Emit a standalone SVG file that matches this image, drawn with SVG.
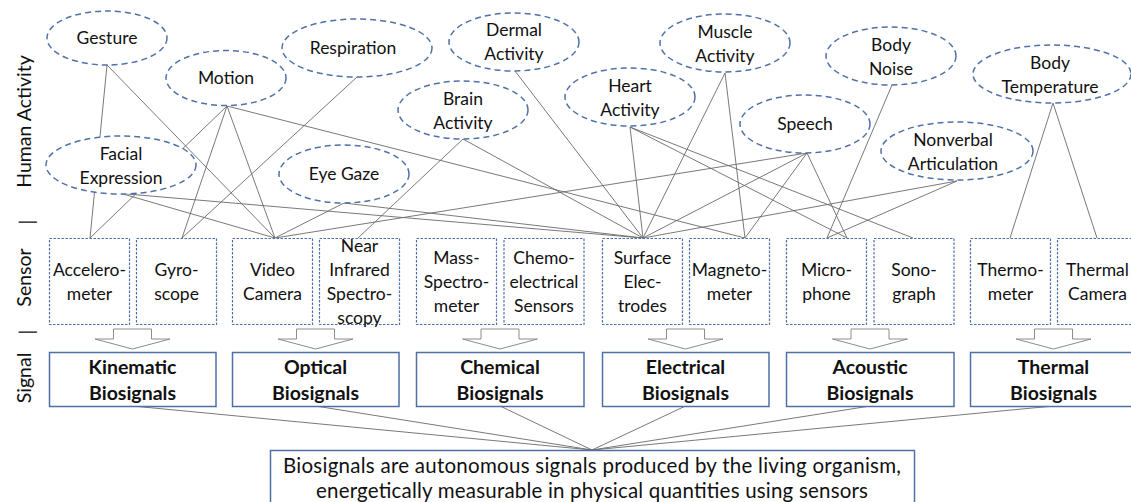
<svg xmlns="http://www.w3.org/2000/svg" xmlns:xlink="http://www.w3.org/1999/xlink" width="1131" height="502" viewBox="0 0 1131 502">
  <style>
    .act { fill: #ffffff; stroke: #4f71aa; stroke-width: 1.5; stroke-dasharray: 6 4; }
    .sen { fill: #ffffff; stroke: #4f71aa; stroke-width: 1.2; stroke-dasharray: 2.5 1.5; }
    .sig { fill: #ffffff; stroke: #4f6fa8; stroke-width: 1.5; }
    .con line { stroke: #6a6a6a; stroke-width: 0.9; }
    .arr { fill: #ffffff; stroke: #8c8c8c; stroke-width: 1; }
    text { font-family: Lato, "Open Sans", sans-serif; fill: #111111; text-anchor: middle; }
    .t { font-size: 17.5px; }
    .b { font-size: 19.5px; font-weight: bold; }
    .lab { font-size: 19.5px; }
    .def { font-size: 20.5px; }
  </style>
  <defs>
    <polygon id="fatArrow" class="arr" points="-19,329 19,329 19,339 37.5,339 0,349 -37.5,339 -19,339"/>
  </defs>

  <!-- level labels on the left edge -->
  <g id="levelLabels" class="lab">
    <text transform="translate(31,121.5) rotate(-90)">Human Activity</text>
    <text transform="translate(28,222) rotate(-90)" dy="6">|</text>
    <text transform="translate(31,277.5) rotate(-90)">Sensor</text>
    <text transform="translate(28,332) rotate(-90)" dy="6">|</text>
    <text transform="translate(31,378) rotate(-90)">Signal</text>
  </g>

  <!-- connectors: activities to sensors, signal classes to definition -->
  <g id="connectors" class="con">
    <line x1="107" y1="65" x2="90" y2="238"/>
    <line x1="107" y1="65" x2="275" y2="238"/>
    <line x1="227" y1="106" x2="90" y2="238"/>
    <line x1="227" y1="106" x2="182" y2="238"/>
    <line x1="227" y1="106" x2="275" y2="238"/>
    <line x1="227" y1="106" x2="745" y2="238"/>
    <line x1="357" y1="77" x2="182" y2="238"/>
    <line x1="123" y1="194" x2="275" y2="238"/>
    <line x1="127" y1="194" x2="643" y2="238"/>
    <line x1="344" y1="203" x2="275" y2="238"/>
    <line x1="344" y1="203" x2="643" y2="238"/>
    <line x1="463" y1="139" x2="358" y2="238"/>
    <line x1="463" y1="139" x2="643" y2="238"/>
    <line x1="515" y1="71" x2="643" y2="238"/>
    <line x1="630" y1="127" x2="643" y2="238"/>
    <line x1="630" y1="127" x2="847" y2="238"/>
    <line x1="630" y1="127" x2="913" y2="238"/>
    <line x1="725" y1="73" x2="643" y2="238"/>
    <line x1="725" y1="73" x2="745" y2="238"/>
    <line x1="807" y1="153" x2="275" y2="238"/>
    <line x1="807" y1="153" x2="643" y2="238"/>
    <line x1="807" y1="153" x2="745" y2="238"/>
    <line x1="807" y1="153" x2="847" y2="238"/>
    <line x1="892" y1="85" x2="827" y2="238"/>
    <line x1="957" y1="181" x2="643" y2="238"/>
    <line x1="957" y1="181" x2="827" y2="238"/>
    <line x1="1053" y1="103" x2="1010" y2="238"/>
    <line x1="1053" y1="103" x2="1097" y2="238"/>

    <line x1="132.5" y1="406" x2="592" y2="450"/>
    <line x1="315.5" y1="406" x2="592" y2="450"/>
    <line x1="500" y1="406" x2="592" y2="450"/>
    <line x1="685.5" y1="406" x2="592" y2="450"/>
    <line x1="870" y1="406" x2="592" y2="450"/>
    <line x1="1053.5" y1="406" x2="592" y2="450"/>
  </g>

  <!-- human activities -->
  <g id="gesture"><ellipse class="act" cx="107" cy="38" rx="60" ry="27"/><text class="t" x="107" y="44">Gesture</text></g>
  <g id="motion"><ellipse class="act" cx="226" cy="78" rx="60" ry="27.5"/><text class="t" x="226" y="84">Motion</text></g>
  <g id="respiration"><ellipse class="act" cx="357" cy="48" rx="75" ry="29"/><text class="t" x="353" y="54">Respiration</text></g>
  <g id="facialExpression"><ellipse class="act" cx="121" cy="165" rx="75" ry="29"/><text class="t" x="121" y="160">Facial</text><text class="t" x="121" y="184">Expression</text></g>
  <g id="eyeGaze"><ellipse class="act" cx="344" cy="174" rx="65" ry="29"/><text class="t" x="344" y="180">Eye Gaze</text></g>
  <g id="brainActivity"><ellipse class="act" cx="463" cy="110" rx="65" ry="29"/><text class="t" x="463" y="105">Brain</text><text class="t" x="463" y="129">Activity</text></g>
  <g id="dermalActivity"><ellipse class="act" cx="514" cy="42" rx="65" ry="29"/><text class="t" x="514" y="36">Dermal</text><text class="t" x="514" y="60">Activity</text></g>
  <g id="heartActivity"><ellipse class="act" cx="630" cy="97" rx="65" ry="29"/><text class="t" x="630" y="92">Heart</text><text class="t" x="630" y="116">Activity</text></g>
  <g id="muscleActivity"><ellipse class="act" cx="725" cy="43" rx="65" ry="29"/><text class="t" x="725" y="38">Muscle</text><text class="t" x="725" y="62">Activity</text></g>
  <g id="speech"><ellipse class="act" cx="805" cy="124" rx="65" ry="29"/><text class="t" x="805" y="130">Speech</text></g>
  <g id="bodyNoise"><ellipse class="act" cx="891" cy="56" rx="65" ry="29"/><text class="t" x="891" y="51">Body</text><text class="t" x="891" y="75">Noise</text></g>
  <g id="nonverbalArticulation"><ellipse class="act" cx="957" cy="151" rx="76" ry="29"/><text class="t" x="953" y="146">Nonverbal</text><text class="t" x="953" y="170">Articulation</text></g>
  <g id="bodyTemperature"><ellipse class="act" cx="1052" cy="74" rx="79" ry="29"/><text class="t" x="1050" y="69">Body</text><text class="t" x="1050" y="93">Temperature</text></g>

  <!-- sensors -->
  <g id="accelerometer"><rect class="sen" x="49.5" y="238.5" width="80" height="86"/><text class="t" x="89.5" y="276">Accelero-</text><text class="t" x="89.5" y="300">meter</text></g>
  <g id="gyroscope"><rect class="sen" x="136.5" y="238.5" width="80" height="86"/><text class="t" x="176.5" y="276">Gyro-</text><text class="t" x="176.5" y="300">scope</text></g>
  <g id="videoCamera"><rect class="sen" x="232.5" y="238.5" width="80" height="86"/><text class="t" x="272.5" y="276">Video</text><text class="t" x="272.5" y="300">Camera</text></g>
  <g id="nearInfrared"><rect class="sen" x="319.5" y="238.5" width="80" height="86"/><text class="t" x="359.5" y="252">Near</text><text class="t" x="359.5" y="276">Infrared</text><text class="t" x="359.5" y="300">Spectro-</text><text class="t" x="359.5" y="324">scopy</text></g>
  <g id="massSpectrometer"><rect class="sen" x="416.5" y="238.5" width="80" height="86"/><text class="t" x="456.5" y="264">Mass-</text><text class="t" x="456.5" y="288">Spectro-</text><text class="t" x="456.5" y="312">meter</text></g>
  <g id="chemoelectrical"><rect class="sen" x="504" y="238.5" width="80" height="86"/><text class="t" x="544" y="264">Chemo-</text><text class="t" x="544" y="288">electrical</text><text class="t" x="544" y="312">Sensors</text></g>
  <g id="surfaceElectrodes"><rect class="sen" x="602.5" y="238.5" width="80" height="86"/><text class="t" x="642.5" y="264">Surface</text><text class="t" x="642.5" y="288">Elec-</text><text class="t" x="642.5" y="312">trodes</text></g>
  <g id="magnetometer"><rect class="sen" x="689.5" y="238.5" width="80" height="86"/><text class="t" x="729.5" y="276">Magneto-</text><text class="t" x="729.5" y="300">meter</text></g>
  <g id="microphone"><rect class="sen" x="786.5" y="238.5" width="80" height="86"/><text class="t" x="826.5" y="276">Micro-</text><text class="t" x="826.5" y="300">phone</text></g>
  <g id="sonograph"><rect class="sen" x="874" y="238.5" width="80" height="86"/><text class="t" x="914" y="276">Sono-</text><text class="t" x="914" y="300">graph</text></g>
  <g id="thermometer"><rect class="sen" x="970.5" y="238.5" width="80" height="86"/><text class="t" x="1010.5" y="276">Thermo-</text><text class="t" x="1010.5" y="300">meter</text></g>
  <g id="thermalCamera"><rect class="sen" x="1057.5" y="238.5" width="80" height="86"/><text class="t" x="1097.5" y="276">Thermal</text><text class="t" x="1097.5" y="300">Camera</text></g>

  <!-- block arrows from sensor pairs to signal classes -->
  <g id="blockArrows">
    <use xlink:href="#fatArrow" transform="translate(132.5,0)"/>
    <use xlink:href="#fatArrow" transform="translate(315.5,0)"/>
    <use xlink:href="#fatArrow" transform="translate(500,0)"/>
    <use xlink:href="#fatArrow" transform="translate(685.5,0)"/>
    <use xlink:href="#fatArrow" transform="translate(870,0)"/>
    <use xlink:href="#fatArrow" transform="translate(1053.5,0)"/>
  </g>

  <!-- signal classes -->
  <g id="kinematic"><rect class="sig" x="49.5" y="352.5" width="166.5" height="54"/><text class="b" x="132.5" y="374">Kinematic</text><text class="b" x="132.5" y="400">Biosignals</text></g>
  <g id="optical"><rect class="sig" x="232.5" y="352.5" width="166.5" height="54"/><text class="b" x="315.5" y="374">Optical</text><text class="b" x="315.5" y="400">Biosignals</text></g>
  <g id="chemical"><rect class="sig" x="416.5" y="352.5" width="167.5" height="54"/><text class="b" x="500" y="374">Chemical</text><text class="b" x="500" y="400">Biosignals</text></g>
  <g id="electrical"><rect class="sig" x="602.5" y="352.5" width="166.5" height="54"/><text class="b" x="685.5" y="374">Electrical</text><text class="b" x="685.5" y="400">Biosignals</text></g>
  <g id="acoustic"><rect class="sig" x="786.5" y="352.5" width="167.5" height="54"/><text class="b" x="870" y="374">Acoustic</text><text class="b" x="870" y="400">Biosignals</text></g>
  <g id="thermal"><rect class="sig" x="970.5" y="352.5" width="166.5" height="54"/><text class="b" x="1053.5" y="374">Thermal</text><text class="b" x="1053.5" y="400">Biosignals</text></g>

  <!-- definition -->
  <g id="definition">
    <rect class="sig" x="270.5" y="450.5" width="644" height="60"/>
    <text class="def" x="592" y="473" textLength="618" lengthAdjust="spacing">Biosignals are autonomous signals produced by the living organism,</text>
    <text class="def" x="592" y="498" textLength="552" lengthAdjust="spacing">energetically measurable in physical quantities using sensors</text>
  </g>
</svg>
